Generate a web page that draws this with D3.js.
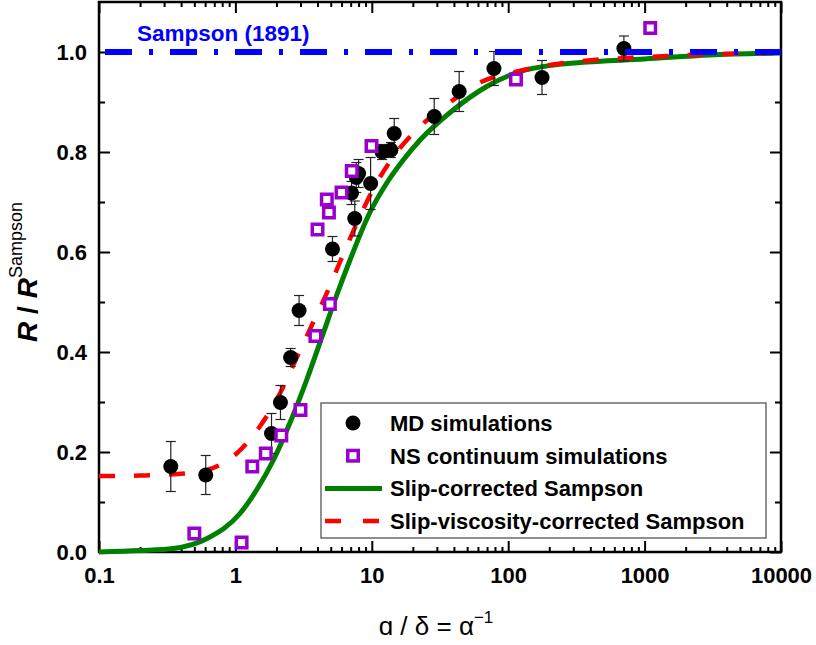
<!DOCTYPE html>
<html>
<head>
<meta charset="utf-8">
<script src="https://cdn.jsdelivr.net/npm/d3@7"></script>
<style>
  body { margin: 0; background: #fff; }
  svg text { font-family: "Liberation Sans", Arial, sans-serif; }
</style>
</head>
<body>
<div class="canvas"></div>
<script>
// MD simulations (black dots with error bars)
var mdX   = [0.336, 0.606, 1.84, 2.14, 2.54, 2.93, 5.15, 7.5, 7.1, 7.7, 8.0, 9.8, 11.9, 13.8, 14.6, 28.7, 43.7, 78.6, 177, 705];
var mdY   = [0.171, 0.154, 0.237, 0.299, 0.389, 0.483, 0.606, 0.667, 0.718, 0.749, 0.757, 0.737, 0.80, 0.804, 0.837, 0.871, 0.921, 0.967, 0.949, 1.007];
var mdErr = [0.05, 0.039, 0.04, 0.034, 0.018, 0.03, 0.025, 0.035, 0.023, 0.03, 0.028, 0.052, 0.015, 0.015, 0.03, 0.036, 0.04, 0.034, 0.034, 0.025];

// NS continuum simulations (open squares)
var nsX = [0.50, 1.11, 1.33, 1.67, 2.17, 3.0, 3.86, 4.93, 4.0, 4.85, 4.68, 6.0, 7.13, 9.95, 114, 1100];
var nsY = [0.037, 0.019, 0.171, 0.197, 0.233, 0.284, 0.432, 0.496, 0.645, 0.679, 0.705, 0.719, 0.762, 0.812, 0.945, 1.048];

// Slip-corrected Sampson (green line)
var slipX = [0.1, 0.2, 0.35, 0.62, 1.08, 1.43, 1.9, 2.5, 3.33, 4.4, 5.5, 6.9, 9.6, 12.8, 17, 22.6, 39.5, 69.6, 122, 215, 337, 1000, 3000, 10000];
var slipY = [0.0, 0.003, 0.007, 0.027, 0.077, 0.124, 0.184, 0.257, 0.344, 0.437, 0.512, 0.583, 0.677, 0.737, 0.784, 0.824, 0.884, 0.931, 0.961, 0.974, 0.979, 0.986, 0.994, 0.998];

// Slip-viscosity-corrected Sampson (red dashed)
var viscX = [0.1, 0.2, 0.38, 0.62, 1.02, 1.51, 2.12, 2.73, 3.6, 4.8, 5.8, 7.7, 10.5, 14.7, 22.6, 39.5, 62, 108, 215, 1445, 10000];
var viscY = [0.152, 0.153, 0.156, 0.164, 0.197, 0.251, 0.317, 0.381, 0.451, 0.525, 0.578, 0.655, 0.731, 0.794, 0.851, 0.904, 0.939, 0.959, 0.975, 0.992, 0.998];

// Sampson (1891) reference
var sampsonX = [0.1, 10000];
var sampsonY = [1, 1];

var xTicks = [0.1, 1, 10, 100, 1000, 10000];
var xTickLabels = ["0.1", "1", "10", "100", "1000", "10000"];
var yTicks = [0.0, 0.2, 0.4, 0.6, 0.8, 1.0];
var yMinor = [0.1, 0.3, 0.5, 0.7, 0.9];

var legendLabels = ["MD simulations", "NS continuum simulations", "Slip-corrected Sampson", "Slip-viscosity-corrected Sampson"];

var svgWidth = 816, svgHeight = 645;
var margin = {left: 99, right: 35, top: 2, bottom: 93};
var w = svgWidth - margin.left - margin.right;
var h = svgHeight - margin.top - margin.bottom;

var purple = "#9900CC";

const svg = d3.select(".canvas").append("svg")
            .attr("width", svgWidth)
            .attr("height", svgHeight);

const g = svg.append("g")
             .attr("transform", "translate(" + margin.left + "," + margin.top + ")");

var x = d3.scaleLog().domain([0.1, 10000]).range([0, w]);
var y = d3.scaleLinear().domain([0, 1.1]).range([h, 0]);

// minor ticks for log axis: 2..9 in every decade
var xMinor = [];
xTicks.slice(0, -1).forEach(function(d) {
     for (var k = 2; k <= 9; k++) xMinor.push(d * k);
});

function styleAxis(sel) {
     sel.select(".domain").remove();
     sel.selectAll("line").attr("stroke", "#000").attr("stroke-width", 2);
     sel.selectAll("text")
        .attr("font-family", "'Liberation Sans', Arial, sans-serif")
        .attr("font-weight", "bold")
        .attr("font-size", 22)
        .attr("fill", "#000");
}

// bottom axis
g.append("g").attr("transform", "translate(0," + h + ")")
 .call(d3.axisBottom(x).tickValues(xTicks).tickFormat(function(d, i) { return xTickLabels[i]; })
       .tickSizeInner(-11).tickSizeOuter(0).tickPadding(15))
 .call(styleAxis);
g.append("g").attr("transform", "translate(0," + h + ")")
 .call(d3.axisBottom(x).tickValues(xMinor).tickFormat("").tickSizeInner(-5).tickSizeOuter(0))
 .call(styleAxis);
// top axis
g.append("g")
 .call(d3.axisTop(x).tickValues(xTicks).tickFormat("").tickSizeInner(-11).tickSizeOuter(0))
 .call(styleAxis);
g.append("g")
 .call(d3.axisTop(x).tickValues(xMinor).tickFormat("").tickSizeInner(-5).tickSizeOuter(0))
 .call(styleAxis);
// left axis
g.append("g")
 .call(d3.axisLeft(y).tickValues(yTicks).tickFormat(d3.format(".1f"))
       .tickSizeInner(-11).tickSizeOuter(0).tickPadding(12))
 .call(styleAxis);
g.append("g")
 .call(d3.axisLeft(y).tickValues(yMinor).tickFormat("").tickSizeInner(-6).tickSizeOuter(0))
 .call(styleAxis);
// right axis
g.append("g").attr("transform", "translate(" + w + ",0)")
 .call(d3.axisRight(y).tickValues(yTicks).tickFormat("").tickSizeInner(-11).tickSizeOuter(0))
 .call(styleAxis);
g.append("g").attr("transform", "translate(" + w + ",0)")
 .call(d3.axisRight(y).tickValues(yMinor).tickFormat("").tickSizeInner(-6).tickSizeOuter(0))
 .call(styleAxis);

// frame
g.append("rect")
 .attr("width", w).attr("height", h)
 .attr("fill", "none").attr("stroke", "#000").attr("stroke-width", 2.5);

var line = d3.line()
     .x(function(d) { return x(d[0]); })
     .y(function(d) { return y(d[1]); })
     .curve(d3.curveMonotoneX);

// green slip-corrected curve
g.append("path")
 .datum(slipX.map(function(d, i) { return [d, slipY[i]]; }))
 .attr("d", line)
 .attr("fill", "none").attr("stroke", "#008000").attr("stroke-width", 5);

// red dashed slip-viscosity curve
g.append("path")
 .datum(viscX.map(function(d, i) { return [d, viscY[i]]; }))
 .attr("d", line)
 .attr("fill", "none").attr("stroke", "#FF0000").attr("stroke-width", 4.5)
 .attr("stroke-dasharray", "16,19");

// MD points with error bars
var md = mdX.map(function(d, i) { return {x: d, y: mdY[i], e: mdErr[i]}; });
var eb = g.append("g").attr("stroke", "#222").attr("stroke-width", 1.2);
md.forEach(function(d) {
     var cx = x(d.x), y0 = y(d.y - d.e), y1 = y(d.y + d.e);
     eb.append("line").attr("x1", cx).attr("x2", cx).attr("y1", y0).attr("y2", y1);
     eb.append("line").attr("x1", cx - 5).attr("x2", cx + 5).attr("y1", y0).attr("y2", y0);
     eb.append("line").attr("x1", cx - 5).attr("x2", cx + 5).attr("y1", y1).attr("y2", y1);
});
g.selectAll("circle.md")
 .data(md)
 .enter().append("circle")
 .attr("class", "md")
 .attr("cx", function(d) { return x(d.x); })
 .attr("cy", function(d) { return y(d.y); })
 .attr("r", 7.5)
 .attr("fill", "#000");

// NS squares
g.selectAll("rect.ns")
 .data(nsX.map(function(d, i) { return {x: d, y: nsY[i]}; }))
 .enter().append("rect")
 .attr("class", "ns")
 .attr("x", function(d) { return x(d.x) - 5.25; })
 .attr("y", function(d) { return y(d.y) - 5.25; })
 .attr("width", 10.5).attr("height", 10.5)
 .attr("fill", "#fff").attr("stroke", purple).attr("stroke-width", 3.5);

// Sampson blue dash-dot line
g.append("path")
 .datum(sampsonX.map(function(d, i) { return [d, sampsonY[i]]; }))
 .attr("d", line)
 .attr("fill", "none").attr("stroke", "#0000FF").attr("stroke-width", 6)
 .attr("stroke-dasharray", "27,17,4,17").attr("stroke-dashoffset", 59);

g.append("text")
 .text("Sampson (1891)")
 .attr("x", 38).attr("y", 39)
 .attr("font-weight", "bold").attr("font-size", 22.5)
 .attr("fill", "#0000FF");

// legend
var lg = svg.append("g").attr("transform", "translate(321,403)");
lg.append("rect")
  .attr("width", 445).attr("height", 135)
  .attr("fill", "#fff").attr("stroke", "#555").attr("stroke-width", 1.3);
var rowY = [20, 52.7, 85.4, 118.1];
lg.append("circle").attr("cx", 32).attr("cy", rowY[0]).attr("r", 7.5).attr("fill", "#000");
lg.append("rect").attr("x", 32 - 5.25).attr("y", rowY[1] - 5.25).attr("width", 10.5).attr("height", 10.5)
  .attr("fill", "#fff").attr("stroke", purple).attr("stroke-width", 3.5);
lg.append("line").attr("x1", 4).attr("x2", 61).attr("y1", rowY[2]).attr("y2", rowY[2])
  .attr("stroke", "#008000").attr("stroke-width", 5);
lg.append("line").attr("x1", 4).attr("x2", 61).attr("y1", rowY[3]).attr("y2", rowY[3])
  .attr("stroke", "#FF0000").attr("stroke-width", 4.5).attr("stroke-dasharray", "16,22");
lg.selectAll("text")
  .data(legendLabels)
  .enter().append("text")
  .text(function(d) { return d; })
  .attr("x", 69)
  .attr("y", function(d, i) { return rowY[i] + 8; })
  .attr("font-weight", "bold").attr("font-size", 22)
  .attr("fill", "#000");

// y axis title
var yt = svg.append("text")
     .attr("transform", "translate(37,272) rotate(-90)")
     .attr("text-anchor", "middle")
     .attr("font-weight", "bold").attr("font-size", 28);
yt.append("tspan").attr("font-style", "italic").text("R");
yt.append("tspan").text(" / ");
yt.append("tspan").attr("font-style", "italic").text("R");
yt.append("tspan").attr("font-size", 18).attr("font-weight", "normal").attr("dy", -15).text("Sampson");

// x axis title
var xt = svg.append("text")
     .attr("x", 436).attr("y", 635)
     .attr("text-anchor", "middle")
     .attr("font-family", "'Liberation Serif', 'Times New Roman', serif")
     .attr("font-size", 26);
xt.append("tspan").text("\u0251 / \u03b4 = \u03b1");
xt.append("tspan").attr("font-size", 17).attr("dy", -12).text("\u22121");
</script>
</body>
</html>
